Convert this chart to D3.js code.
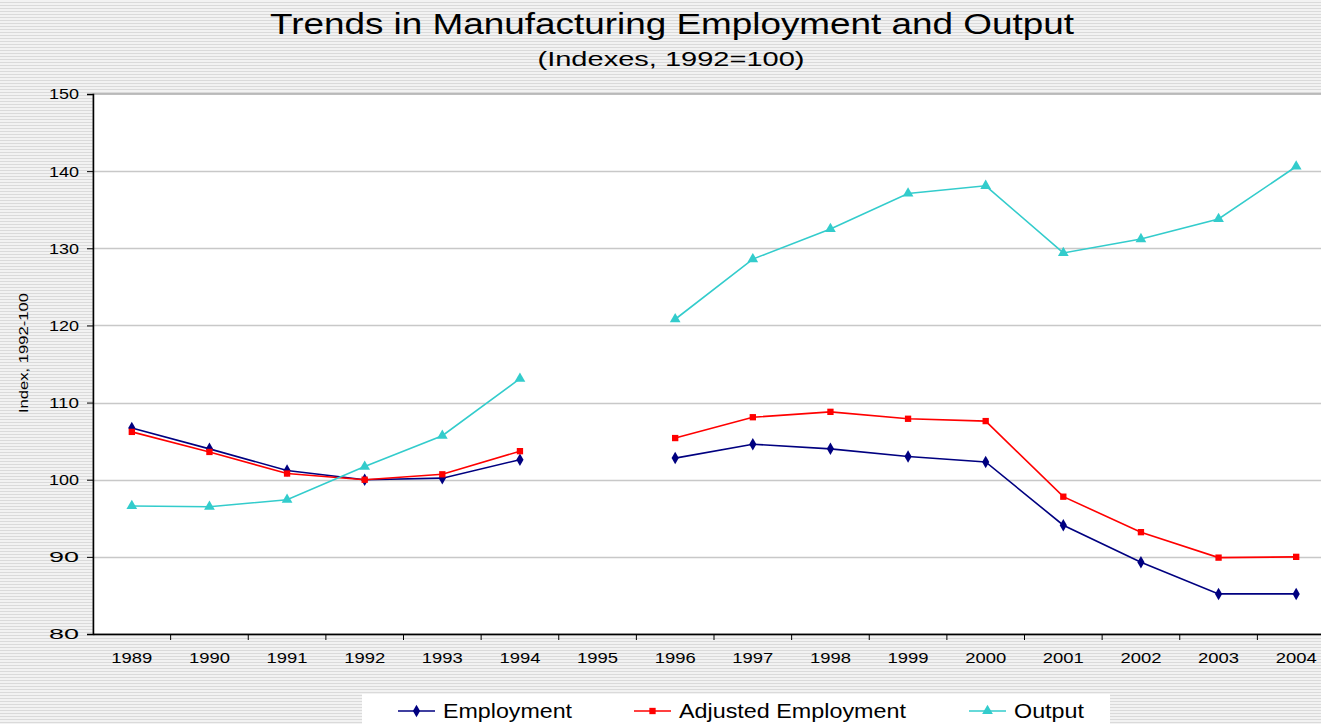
<!DOCTYPE html>
<html>
<head>
<meta charset="utf-8">
<script src="https://cdn.jsdelivr.net/npm/d3@7"></script>
<style>
  html, body { margin: 0; padding: 0; overflow: hidden; }
  svg { display: block; font-family: "Liberation Sans", Arial, sans-serif; }
</style>
</head>
<body>
<div id="chart"></div>
<script>
// dados
const years = ["1989","1990","1991","1992","1993","1994","1995","1996","1997","1998","1999","2000","2001","2002","2003","2004"];
const employment = [106.7, 104.0, 101.2, 100.0, 100.2, 102.6, null, 102.8, 104.6, 104.0, 103.0, 102.3, 94.1, 89.3, 85.2, 85.2];
const adjusted   = [106.2, 103.6, 100.8, 100.0, 100.7, 103.7, null, 105.4, 108.1, 108.8, 107.9, 107.6, 97.8, 93.2, 89.9, 90.0];
const output     = [96.6, 96.5, 97.4, 101.7, 105.7, 113.1, null, 120.8, 128.6, 132.5, 137.1, 138.1, 129.4, 131.2, 133.8, 140.6];
const yTicks = [80, 90, 100, 110, 120, 130, 140, 150];

const width = 1321, height = 724;
const margin = { top: 94, right: -14, bottom: 90, left: 93 };
const plotW = width - margin.left - margin.right;
const plotH = height - margin.top - margin.bottom;

const series = [
  { name: "Employment", values: employment, color: "#000080", marker: "diamond", lx: 398, tw: 129 },
  { name: "Adjusted Employment", values: adjusted, color: "#ff0000", marker: "square", lx: 634, tw: 227 },
  { name: "Output", values: output, color: "#33cccc", marker: "triangle", lx: 969, tw: 70 }
];

const svg = d3.select("#chart").append("svg")
  .attr("width", width)
  .attr("height", height);

// fundo listrado
const defs = svg.append("defs");
const pat = defs.append("pattern")
  .attr("id", "stripes")
  .attr("patternUnits", "userSpaceOnUse")
  .attr("width", 8).attr("height", 3);
pat.append("rect").attr("width", 8).attr("height", 3).attr("fill", "#f2f2f2");
pat.append("rect").attr("y", 2).attr("width", 8).attr("height", 1).attr("fill", "#dadada");

svg.append("rect").attr("width", width).attr("height", height).attr("fill", "url(#stripes)");

// títulos (o texto original é mais largo: textLength estica)
svg.append("text")
  .attr("x", 672).attr("y", 34)
  .attr("text-anchor", "middle")
  .attr("textLength", 804).attr("lengthAdjust", "spacingAndGlyphs")
  .style("font-size", "29px")
  .text("Trends in Manufacturing Employment and Output");
svg.append("text")
  .attr("x", 671).attr("y", 66)
  .attr("text-anchor", "middle")
  .attr("textLength", 267).attr("lengthAdjust", "spacingAndGlyphs")
  .style("font-size", "20px")
  .text("(Indexes, 1992=100)");

const g = svg.append("g").attr("transform", `translate(${margin.left},${margin.top})`);

const x = d3.scaleBand().domain(years).range([0, plotW]);
const y = d3.scaleLinear().domain([80, 150]).range([plotH, 0]);

// área do gráfico
g.append("rect")
  .attr("width", plotW).attr("height", plotH)
  .attr("fill", "#fff")
  .attr("stroke", "#808080").attr("stroke-width", 1);

// grade
g.append("g")
  .selectAll("line")
  .data(yTicks.slice(1, -1))
  .enter().append("line")
  .attr("x1", 0).attr("x2", plotW)
  .attr("y1", d => Math.round(y(d)) + 0.5).attr("y2", d => Math.round(y(d)) + 0.5)
  .attr("stroke", "#c8c8c8").attr("stroke-width", 1.5);

// eixo y
const yAxis = g.append("g")
  .call(d3.axisLeft(y).tickValues(yTicks).tickSize(6).tickPadding(8));
yAxis.select(".domain").attr("stroke", "#000").attr("stroke-width", 1.5);
yAxis.selectAll(".tick line").attr("stroke", "#000");
yAxis.selectAll("text")
  .style("font-size", "15.5px").attr("fill", "#000")
  .style("font-family", "Liberation Sans, Arial, sans-serif")
  .attr("textLength", 30).attr("lengthAdjust", "spacingAndGlyphs");

// eixo x
const xAxis = g.append("g")
  .attr("transform", `translate(0,${plotH})`)
  .call(d3.axisBottom(x).tickSize(0).tickPadding(18));
xAxis.select(".domain").attr("stroke", "#000").attr("stroke-width", 1.5);
xAxis.selectAll("text")
  .style("font-size", "15.5px").attr("fill", "#000")
  .style("font-family", "Liberation Sans, Arial, sans-serif")
  .attr("textLength", 41).attr("lengthAdjust", "spacingAndGlyphs");
xAxis.append("g")
  .selectAll("line")
  .data(years.slice(1))
  .enter().append("line")
  .attr("x1", d => x(d)).attr("x2", d => x(d))
  .attr("y1", 0).attr("y2", 6)
  .attr("stroke", "#000");

// título eixo y
svg.append("text")
  .attr("transform", `translate(28,353) rotate(-90)`)
  .attr("text-anchor", "middle")
  .attr("textLength", 120).attr("lengthAdjust", "spacingAndGlyphs")
  .style("font-size", "13px")
  .text("Index, 1992-100");

// linhas
const line = d3.line()
  .defined(d => d.v !== null)
  .x(d => x(d.year) + x.bandwidth() / 2)
  .y(d => y(d.v));

function markerPath(type) {
  if (type === "diamond") return d3.symbol().type(d3.symbolDiamond).size(45)();
  if (type === "square") return d3.symbol().type(d3.symbolSquare).size(40)();
  return d3.symbol().type(d3.symbolTriangle).size(50)();
}

series.forEach(s => {
  const pts = years.map((yr, i) => ({ year: yr, v: s.values[i] }));
  g.append("path")
    .datum(pts)
    .attr("fill", "none")
    .attr("stroke", s.color)
    .attr("stroke-width", 1.6)
    .attr("d", line);
  g.append("g")
    .selectAll("path")
    .data(pts.filter(d => d.v !== null))
    .enter().append("path")
    .attr("transform", d => `translate(${x(d.year) + x.bandwidth() / 2},${y(d.v)})`)
    .attr("d", markerPath(s.marker))
    .attr("fill", s.color);
});

// legenda
const legend = svg.append("g");
legend.append("rect")
  .attr("x", 362).attr("y", 694)
  .attr("width", 748).attr("height", 40)
  .attr("fill", "#fff");
series.forEach(s => {
  const item = legend.append("g").attr("transform", `translate(${s.lx},711)`);
  item.append("line").attr("x1", 0).attr("x2", 37).attr("stroke", s.color).attr("stroke-width", 1.6);
  item.append("path").attr("transform", "translate(18.5,0)").attr("d", markerPath(s.marker)).attr("fill", s.color);
  item.append("text")
    .attr("x", 45).attr("y", 7)
    .attr("textLength", s.tw).attr("lengthAdjust", "spacingAndGlyphs")
    .style("font-size", "19.5px")
    .text(s.name);
});
</script>
</body>
</html>
